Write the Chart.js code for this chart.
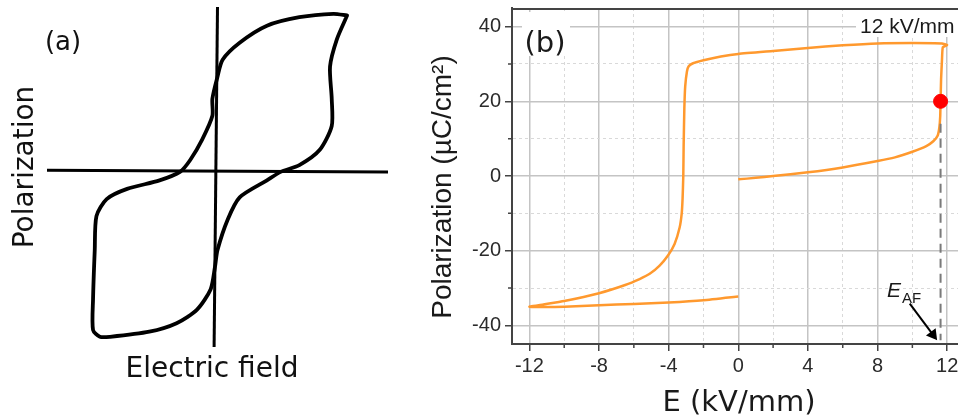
<!DOCTYPE html>
<html>
<head>
<meta charset="utf-8">
<script src="https://cdn.jsdelivr.net/npm/chart.js@4.4.1/dist/chart.umd.min.js"></script>
<style>
  html, body { margin: 0; padding: 0; background: #fff; overflow: hidden; width: 958px; height: 418px; }
  #panelA { position: absolute; left: 0; top: 0; }
  #panelB { position: absolute; left: 420px; top: 0; }
</style>
</head>
<body>
<canvas id="panelA" width="420" height="418"></canvas>
<canvas id="panelB" width="570" height="418"></canvas>
<script>
// ---- panel (a) : sketched loop, arbitrary units ----
const sketchField = [0.76, 0.68, 0.48, 0.29, 0.13, 0.03, 0.0, -0.03, -0.03, -0.09, -0.16, -0.22, -0.34, -0.53, -0.65, -0.71, -0.72, -0.73, -0.73, -0.69, -0.63, -0.40, -0.24, -0.12, -0.04, -0.015, 0.0, 0.06, 0.13, 0.29, 0.37, 0.48, 0.60, 0.67, 0.67, 0.66, 0.70, 0.76]
const sketchPol   = [0.91, 0.92, 0.90, 0.85, 0.75, 0.65, 0.55, 0.42, 0.32, 0.18, 0.06, -0.01, -0.06, -0.11, -0.17, -0.27, -0.47, -0.76, -0.94, -0.98, -0.98, -0.95, -0.90, -0.82, -0.70, -0.57, -0.47, -0.29, -0.16, -0.06, -0.01, 0.03, 0.12, 0.26, 0.42, 0.61, 0.77, 0.91]
const hAxisE = [-1, 1]
const hAxisP = [0, -0.01]
const vAxisE = [0, -0.02]
const vAxisP = [0.96, -1.04]

// ---- panel (b) : measured P-E loop ----
const fieldE = [0, 1, 2, 4, 6, 8, 9, 10, 10.8, 11.2, 11.45, 11.55, 11.6, 11.62, 11.65, 11.7, 11.75, 12.0, 11.7, 10, 8, 6, 4, 2, 0, -1, -2, -2.6, -2.85, -2.95, -3.05, -3.1, -3.14, -3.16, -3.2, -3.25, -3.37, -3.66, -4.04, -4.52, -5.09, -5.67, -6.5, -8, -10, -11.2, -12, -11, -10, -8, -6, -4, -2, 0]
const polP   = [-0.9, -0.5, 0, 1, 2.3, 4, 5, 6.5, 8, 9.3, 10.8, 13, 16, 20, 26, 31, 34.5, 35.1, 35.5, 35.6, 35.5, 35, 34.3, 33.5, 32.7, 32, 31, 30.2, 29.4, 28, 24, 18, 8, 0, -6, -10, -13.8, -18.2, -21.3, -24, -26.2, -27.6, -29.2, -31.4, -33.5, -34.4, -35, -35.1, -35, -34.6, -34.3, -33.9, -33.3, -32.3]
const afE = [11.62]
const afP = [20]
const guideE = [11.62, 11.62]
const guideP = [14, -44]
const arrowE = [9.85, 11.18]
const arrowP = [-34.2, -42.5]
const xMajor = [-12, -8, -4, 0, 4, 8, 12]
const xMinor = [-10, -6, -2, 2, 6, 10]
const yMajor = [-40, -20, 0, 20, 40]
const yMinor = [-30, -10, 10, 30]

const pts = (xs, ys) => xs.map((x, i) => ({ x: x, y: ys[i] }))

Chart.defaults.font.family = '"Liberation Sans", Arial, sans-serif'

const sketchText = {
    id: 'sketchText',
    afterDraw(chart) {
        const c = chart.ctx
        c.save()
        c.fillStyle = '#111'
        c.textAlign = 'center'
        c.textBaseline = 'alphabetic'
        c.font = '26px "DejaVu Sans"'
        c.fillText('(a)', 63, 50)
        c.font = '28px "DejaVu Sans"'
        c.fillText('Electric field', 212, 377)
        c.translate(33, 167)
        c.rotate(-Math.PI / 2)
        c.fillText('Polarization', 0, 0)
        c.restore()
    }
}

new Chart(document.getElementById('panelA'), {
    type: 'scatter',
    data: {
        datasets: [
            { data: pts(hAxisE, hAxisP), showLine: true, borderColor: '#000', borderWidth: 3, pointRadius: 0 },
            { data: pts(vAxisE, vAxisP), showLine: true, borderColor: '#000', borderWidth: 3, pointRadius: 0 },
            { data: pts(sketchField, sketchPol), showLine: true, borderColor: '#000', borderWidth: 3.8, pointRadius: 0,
              tension: 0.25, borderCapStyle: 'round', borderJoinStyle: 'round' }
        ]
    },
    options: {
        responsive: false, animation: false, devicePixelRatio: 1,
        layout: { padding: { left: 47, right: 32, top: 7, bottom: 71 } },
        plugins: { legend: { display: false }, tooltip: { enabled: false } },
        scales: {
            x: { display: false, min: -1, max: 1 },
            y: { display: false, min: -1.04, max: 0.96 }
        }
    },
    plugins: [sketchText]
})

// ---- panel (b) ----
const isMajor = (scaleId, v) => (scaleId === 'x' ? xMajor : yMajor).includes(v)

const loopDecor = {
    id: 'loopDecor',
    afterDraw(chart) {
        const c = chart.ctx
        const a = chart.chartArea
        const sx = chart.scales.x, sy = chart.scales.y
        c.save()
        // white boxes behind labels
        c.fillStyle = '#fff'
        c.fillRect(102, 12, 48, 44)
        c.fillRect(436, 10, 125, 27)

        // top frame + minor ticks
        c.setLineDash([])
        c.strokeStyle = '#444'
        c.lineWidth = 2
        c.beginPath()
        c.moveTo(a.left - 1, a.top + 1)
        c.lineTo(chart.width, a.top + 1)
        c.stroke()
        c.lineWidth = 1.5
        c.beginPath()
        xMinor.forEach(v => { const p = sx.getPixelForValue(v); c.moveTo(p, a.bottom); c.lineTo(p, a.bottom + 4) })
        yMinor.forEach(v => { const p = sy.getPixelForValue(v); c.moveTo(a.left, p); c.lineTo(a.left - 4, p) })
        c.stroke()

        c.fillStyle = '#1a1a1a'
        c.textBaseline = 'alphabetic'
        c.textAlign = 'center'
        c.font = '29px "DejaVu Sans"'
        c.fillText('(b)', 125, 52)
        c.textAlign = 'left'
        c.font = '21px "Liberation Sans"'
        c.fillText('12 kV/mm', 440, 33)

        // E_AF
        c.font = 'italic 21px "Liberation Sans"'
        c.fillText('E', 467, 297)
        const w = c.measureText('E').width
        c.font = '15px "Liberation Sans"'
        c.fillText('AF', 467 + w + 1, 303)

        // axis titles
        c.textAlign = 'center'
        c.font = '29px "DejaVu Sans"'
        c.fillText('E (kV/mm)', 319, 411)
        c.font = '28px "Liberation Sans"'
        c.translate(31, 187)
        c.rotate(-Math.PI / 2)
        c.fillText('Polarization (µC/cm²)', 0, 0)
        c.restore()
    }
}

const axisStyle = (id, majors, minors, fitKey, fitVal) => ({
    type: 'linear',
    afterBuildTicks: s => { s.ticks = majors.concat(minors).sort((p, q) => p - q).map(v => ({ value: v })) },
    afterFit: s => {
        s[fitKey] = fitVal
        s.paddingTop = 0; s.paddingBottom = 0; s.paddingLeft = 0; s.paddingRight = 0
    },
    ticks: {
        autoSkip: false,
        padding: id === 'x' ? 3 : 4,
        color: '#2b2b2b',
        font: { size: 20 },
        callback: v => isMajor(id, v) ? v : ''
    },
    grid: {
        color: ctx => isMajor(id, ctx.tick.value) ? '#c4c4c4' : '#d9d9d9',
        lineWidth: ctx => isMajor(id, ctx.tick.value) ? 1.5 : 1,
        tickLength: 7,
        tickWidth: 1.5,
        tickColor: ctx => isMajor(id, ctx.tick.value) ? '#444' : 'rgba(0,0,0,0)'
    },
    border: {
        display: true, color: '#444', width: 2,
        dash: ctx => (ctx.tick && !isMajor(id, ctx.tick.value)) ? [3, 3] : []
    }
})

const xAxis = axisStyle('x', xMajor, xMinor, 'height', 74)
xAxis.min = -13
xAxis.max = 14
const yAxis = axisStyle('y', yMajor, yMinor, 'width', 92)
yAxis.min = -45
yAxis.max = 45

new Chart(document.getElementById('panelB'), {
    type: 'scatter',
    data: {
        datasets: [
            { data: pts(afE, afP), pointRadius: 7, pointBackgroundColor: '#ff0000', pointBorderColor: '#ff0000', order: 0 },
            { data: pts(guideE, guideP), showLine: true, borderColor: '#7a7a7a', borderWidth: 2, borderDash: [9, 6], pointRadius: 0, order: 1 },
            { data: pts(arrowE, arrowP), showLine: true, borderColor: '#000', borderWidth: 2,
              pointRadius: [0, 5], pointStyle: 'triangle', rotation: 143, pointBackgroundColor: '#000', pointBorderColor: '#000', order: 2 },
            { data: pts(fieldE, polP), showLine: true, borderColor: '#ff992e', borderWidth: 2.5, pointRadius: 0,
              tension: 0.15, borderJoinStyle: 'round', order: 3 }
        ]
    },
    options: {
        responsive: false, animation: false, devicePixelRatio: 1,
        layout: { padding: { left: 0, right: 8, top: 6, bottom: 0 } },
        plugins: { legend: { display: false }, tooltip: { enabled: false } },
        scales: { x: xAxis, y: yAxis }
    },
    plugins: [loopDecor]
})
</script>
</body>
</html>
